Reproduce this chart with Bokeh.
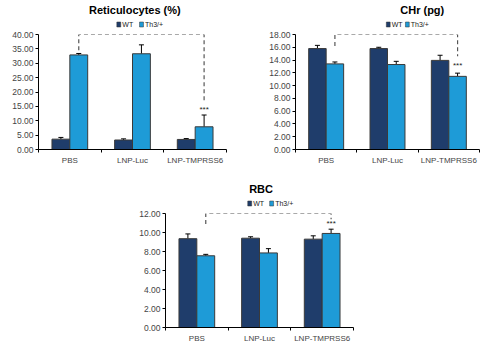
from bokeh.plotting import figure
from bokeh.models import (ColumnDataSource, FixedTicker, Range1d, Whisker, Spacer,
                          PrintfTickFormatter)
from bokeh.layouts import column, row
from bokeh.core.properties import value
from bokeh.embed import file_html
from bokeh.resources import INLINE

categories = ["PBS", "LNP-Luc", "LNP-TMPRSS6"]
groups = ["WT", "Th3/+"]

ret_wt = [3.6, 3.3, 3.5]
ret_wt_err = [0.6, 0.4, 0.3]
ret_th3 = [32.9, 33.3, 7.9]
ret_th3_err = [0.5, 3.1, 4.1]

chr_wt = [15.8, 15.8, 13.95]
chr_wt_err = [0.5, 0.2, 0.8]
chr_th3 = [13.4, 13.3, 11.45]
chr_th3_err = [0.3, 0.5, 0.5]

rbc_wt = [9.35, 9.4, 9.3]
rbc_wt_err = [0.5, 0.15, 0.35]
rbc_th3 = [7.55, 7.85, 9.9]
rbc_th3_err = [0.15, 0.45, 0.45]

FONT = "Liberation Sans"
WT_COLOR = "#1f3d6b"
TH3_COLOR = "#1e9bd7"
COLORS = [WT_COLOR, TH3_COLOR]


def make_header(title, width, height, title_x, title_y, leg_x, leg_y):
    h = figure(width=width, height=height, output_backend="svg", toolbar_location=None,
               x_range=Range1d(0, width), y_range=Range1d(0, height),
               min_border_left=0, min_border_right=0, min_border_top=0, min_border_bottom=0)
    h.axis.visible = False
    h.grid.visible = False
    h.outline_line_color = None
    h.text([title_x], [title_y], text=[title], text_align="center", text_baseline="middle",
           text_font=value(FONT), text_font_size="11px", text_font_style="bold",
           text_color="black")
    # legend swatches and labels
    sq_x = [leg_x[0] + 2.5, leg_x[1] + 2.5]
    h.rect(sq_x, [leg_y, leg_y], width=5, height=5, fill_color=COLORS,
           line_color="#333333", line_width=0.5)
    h.text([leg_x[0] + 7, leg_x[1] + 7], [leg_y, leg_y], text=groups, text_align="left",
           text_baseline="middle", text_font=value(FONT), text_font_size="7px",
           text_color="#222222")
    return h


def make_chart(wt, wt_err, th3, th3_err, ymax, step, bracket, star_y,
               width, height, left, right, bottom):
    p = figure(width=width, height=height, output_backend="svg", toolbar_location=None,
               x_range=Range1d(0.5, 3.5), y_range=Range1d(0, ymax),
               min_border_left=left, min_border_right=right, min_border_top=5,
               min_border_bottom=bottom)
    p.outline_line_color = None
    p.grid.visible = False

    xs = [1, 2, 3]
    bw = 0.285
    xw = [x - bw / 2 for x in xs]
    xt = [x + bw / 2 for x in xs]
    s_wt = ColumnDataSource(dict(x=xw, top=wt, upper=[a + b for a, b in zip(wt, wt_err)], base=wt))
    s_th = ColumnDataSource(dict(x=xt, top=th3, upper=[a + b for a, b in zip(th3, th3_err)], base=th3))
    for s in (s_wt, s_th):
        w = Whisker(source=s, base="x", upper="upper", lower="base", dimension="height",
                    line_color="black", line_width=1)
        w.upper_head.size = 5
        w.upper_head.line_color = "black"
        w.lower_head = None
        p.add_layout(w)
    p.vbar(x="x", top="top", width=bw, source=s_wt, fill_color=WT_COLOR,
           line_color="#3a3a3a", line_width=1)
    p.vbar(x="x", top="top", width=bw, source=s_th, fill_color=TH3_COLOR,
           line_color="#3a3a3a", line_width=1)

    # significance bracket
    bx0, bx1 = xt[0], xt[2]
    ytop, yl, yr = bracket
    p.line([bx0, bx0, bx1, bx1], [yl, ytop, ytop, yr], line_dash="4 3",
           line_color="#555555", line_width=1.2)
    p.text([bx1], [star_y], text=["***"], text_align="center", text_baseline="middle",
           text_font=value(FONT), text_font_size="8px", text_color="#222222")

    ya = p.yaxis[0]
    ya.ticker = FixedTicker(ticks=[i * step for i in range(int(round(ymax / step)) + 1)])
    ya.formatter = PrintfTickFormatter(format="%.2f")
    ya.major_label_text_font = FONT
    ya.major_label_text_font_size = "8.5px"
    ya.major_tick_out = 3
    ya.major_tick_in = 0
    ya.minor_tick_out = 0
    ya.minor_tick_in = 0
    ya.axis_line_color = "black"
    ya.major_label_standoff = 2

    xa = p.xaxis[0]
    xa.ticker = FixedTicker(ticks=[1, 2, 3], minor_ticks=[0.5, 1.5, 2.5, 3.5])
    xa.major_label_overrides = {1: categories[0], 2: categories[1], 3: categories[2]}
    xa.major_label_text_font = FONT
    xa.major_label_text_font_size = "8px"
    xa.major_tick_out = 0
    xa.major_tick_in = 0
    xa.minor_tick_out = 3
    xa.minor_tick_in = 0
    xa.axis_line_color = "black"
    xa.major_label_standoff = 3
    return p


h1 = make_header("Reticulocytes (%)", 240, 29, 123, 20, (100, 129), 5)
p1 = make_chart(ret_wt, ret_wt_err, ret_th3, ret_th3_err, 40, 5,
                (40, 34.5, 17), 13.8, 240, 141, 38, 14, 21)
h2 = make_header("CHr (pg)", 241, 29, 166, 20, (119, 144), 5)
p2 = make_chart(chr_wt, chr_wt_err, chr_th3, chr_th3_err, 18, 2,
                (18, 16.2, 14.6), 13.2, 241, 141, 55, 2, 21)
h3 = make_header("RBC", 240, 29, 122, 20, (105, 133), 5)
p3 = make_chart(rbc_wt, rbc_wt_err, rbc_th3, rbc_th3_err, 12, 2,
                (12, 10.9, 11.4), 10.95, 240, 137, 38, 14, 17)

layout = column(row(column(h1, p1), column(h2, p2)), Spacer(height=9),
                row(Spacer(width=127), column(h3, p3)))
open("out.html", "w").write(file_html(layout, INLINE))
